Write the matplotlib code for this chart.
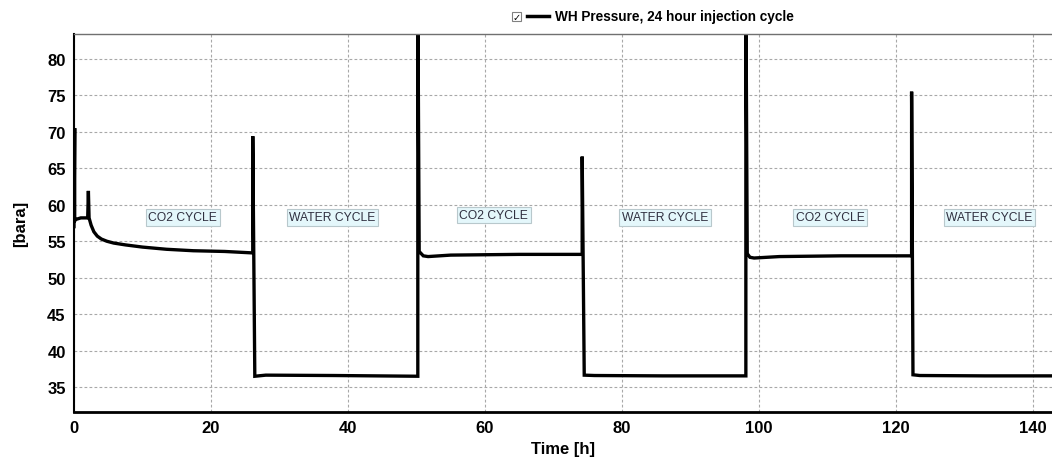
import matplotlib.pyplot as plt
from matplotlib.lines import Line2D
from matplotlib.patches import Rectangle

plt.rcParams['font.family'] = ['Liberation Sans', 'DejaVu Sans']

# wellhead pressure
time_h = [0.0, 0.1, 0.1, 0.3, 1.0, 2.0, 2.1, 2.2, 2.5, 2.9, 3.4, 4.0, 4.8, 5.8, 7.5, 10.0, 13.5, 17.4, 22.0, 26.1,
          26.1, 26.4, 28.0, 38.0, 50.2,
          50.2, 50.4, 51.0, 51.7, 55.0, 65.0, 74.2,
          74.2, 74.5, 76.0, 86.0, 98.1,
          98.1, 98.3, 98.7, 99.3, 103.0, 112.0, 122.3,
          122.3, 122.5, 123.5, 133.0, 143.0]
pressure = [57.0, 70.5, 57.8, 58.0, 58.2, 58.2, 61.9, 58.2, 57.2, 56.3, 55.7, 55.3, 55.0, 54.75, 54.5, 54.2, 53.9, 53.7, 53.6, 53.4,
            69.4, 36.5, 36.65, 36.6, 36.5,
            90.0, 53.6, 53.0, 52.9, 53.1, 53.2, 53.2,
            66.6, 36.65, 36.6, 36.55, 36.55,
            90.0, 53.3, 52.8, 52.7, 52.9, 53.0, 53.0,
            75.5, 36.7, 36.6, 36.55, 36.55]

cycle_labels = ['CO2 CYCLE', 'WATER CYCLE', 'CO2 CYCLE', 'WATER CYCLE', 'CO2 CYCLE', 'WATER CYCLE']
label_t = [15.9, 37.7, 61.3, 86.3, 110.4, 133.7]
label_p = [58.3, 58.3, 58.6, 58.3, 58.3, 58.3]

x_ticks = [0, 20, 40, 60, 80, 100, 120, 140]
y_ticks = [35, 40, 45, 50, 55, 60, 65, 70, 75, 80]

fig = plt.figure(figsize=(10.52, 4.60), dpi=100)
ax = fig.add_axes([74 / 1052, 1 - 413 / 460, 1 - 74 / 1052, (413 - 35) / 460])

ax.plot(time_h, pressure, color='black', lw=2.4, solid_joinstyle='miter')

for lab, t, p in zip(cycle_labels, label_t, label_p):
    ax.text(t, p, lab, fontsize=8.7, color='#303040', ha='center', va='center',
            bbox=dict(boxstyle='square,pad=0.2', fc='#e4f7fb', ec='#b8c8cc', lw=0.8))

ax.set_xlim(0, 142.8)
ax.set_ylim(31.6, 83.4)
ax.set_xticks(x_ticks)
ax.set_yticks(y_ticks)
ax.grid(True, color='#a8a8a8', ls=(0, (2.5, 2)), lw=0.8)
ax.tick_params(length=0, labelsize=12, pad=6)
for lbl in ax.get_xticklabels() + ax.get_yticklabels():
    lbl.set_fontweight('bold')

ax.spines['right'].set_visible(False)
ax.spines['top'].set_color('#707070')
ax.spines['top'].set_linewidth(1.0)
ax.spines['left'].set_linewidth(1.5)
ax.spines['bottom'].set_linewidth(2.0)

ax.set_xlabel('Time [h]', fontsize=12, fontweight='bold', labelpad=4)
ax.set_ylabel('[bara]', fontsize=12, fontweight='bold', labelpad=14)

# legend strip on top
fig.patches.append(Rectangle((512 / 1052, 1 - 22 / 460), 9 / 1052, 9 / 460,
                             transform=fig.transFigure, fc='white', ec='#808080', lw=0.8))
fig.text(516.5 / 1052, 1 - 17.5 / 460, '✓', fontsize=7, ha='center', va='center', family='DejaVu Sans')
fig.lines.append(Line2D([527 / 1052, 549 / 1052], [1 - 17 / 460, 1 - 17 / 460],
                        transform=fig.transFigure, color='black', lw=2.5))
fig.text(555 / 1052, 1 - 17 / 460, 'WH Pressure, 24 hour injection cycle',
         fontsize=9.8, fontweight='bold', va='center', ha='left')

fig.savefig('out.png', dpi=100)
